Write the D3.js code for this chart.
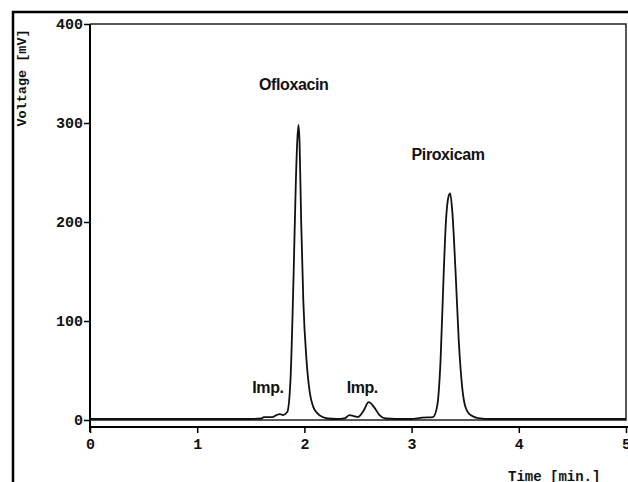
<!DOCTYPE html>
<html>
<head>
<meta charset="utf-8">
<script src="https://cdn.jsdelivr.net/npm/d3@7"></script>
<style>
  body { margin: 0; background: #fff; }
  svg { display: block; }
</style>
</head>
<body>
<svg id="chart" width="628" height="482"></svg>
<script>
// chromatogram data (time in min, signal in mV)
const times = [0, 0.5, 1.0, 1.5, 1.6, 1.62, 1.7, 1.74, 1.77, 1.8,
  1.84, 1.87, 1.9, 1.92, 1.935, 1.945, 1.955, 1.97, 1.99, 2.02,
  2.05, 2.08, 2.12, 2.17, 2.22, 2.3, 2.38, 2.42, 2.46, 2.5,
  2.55, 2.6, 2.65, 2.7, 2.76, 2.85, 3.0, 3.07, 3.1, 3.2,
  3.24, 3.27, 3.3, 3.32, 3.345, 3.36, 3.38, 3.41, 3.44, 3.47,
  3.5, 3.55, 3.62, 3.75, 4.0, 4.5, 5.0];
const voltage = [1, 1, 1, 1, 1.5, 3, 3, 5, 6, 5,
  8, 40, 150, 240, 285, 298, 280, 200, 120, 60,
  28, 14, 7, 3, 1.5, 1, 2, 5, 4, 3,
  9, 18, 13, 5, 1.5, 1, 1, 2, 2.5, 3,
  15, 60, 150, 200, 226, 229, 210, 150, 80, 35,
  14, 5, 2, 1, 1, 1, 1];

const xTicks = [0, 1, 2, 3, 4, 5];
const yTicks = [0, 100, 200, 300, 400];

// peak annotations
const peakNames = ['Ofloxacin', 'Piroxicam', 'Imp.', 'Imp.'];
const peakTimes = [1.9, 3.34, 1.66, 2.54];
const peakLabelV = [333, 263, 27, 27];

const svg = d3.select('#chart');
const margin = { left: 90, top: 24, right: 626, bottom: 420 };

const x = d3.scaleLinear().domain([0, 5]).range([margin.left, margin.right]);
const y = d3.scaleLinear().domain([0, 400]).range([margin.bottom, margin.top]);

const mono = "'Liberation Mono', 'Courier New', monospace";
const sans = "'Liberation Sans', Arial, sans-serif";

// outer frame (top + left edges)
svg.append('path')
  .attr('d', 'M13,482 V12 H628')
  .attr('fill', 'none')
  .attr('stroke', '#000')
  .attr('stroke-width', 2.5);

// plot box
svg.append('path')
  .attr('d', `M${x(0)},${y(400)} H${x(5)} V${y(0)} H${x(0)}`)
  .attr('fill', 'none')
  .attr('stroke', '#222')
  .attr('stroke-width', 1.5);

// signal trace
const line = d3.line()
  .x((d, i) => x(times[i]))
  .y(d => y(d))
  .curve(d3.curveMonotoneX);

svg.append('path')
  .datum(voltage)
  .attr('fill', 'none')
  .attr('stroke', '#111')
  .attr('stroke-width', 1.8)
  .attr('d', line);

// Y axis
const yAxis = svg.append('g')
  .attr('transform', `translate(${x(0)},0)`)
  .call(d3.axisLeft(y).tickValues(yTicks).tickFormat(d3.format('d'))
    .tickSize(6).tickPadding(1).tickSizeOuter(0));
yAxis.select('.domain').attr('d', `M0,${y(400)} V${y(0) + 12}`).attr('stroke-width', 2);

// X axis sits a little under the baseline
const xAxis = svg.append('g')
  .attr('transform', `translate(0,${y(0) + 7})`)
  .call(d3.axisBottom(x).tickValues(xTicks).tickFormat(d3.format('d'))
    .tickSize(6).tickPadding(5).tickSizeOuter(0));
xAxis.select('.domain').attr('d', `M${x(0)},0 H628`).attr('stroke-width', 2);

svg.selectAll('.tick line').attr('stroke', '#000').attr('stroke-width', 1.5);
svg.selectAll('.tick text')
  .attr('font-family', mono)
  .attr('font-weight', 'bold')
  .attr('font-size', 15)
  .attr('fill', '#111');

// axis titles
svg.append('text')
  .attr('transform', 'translate(26,78) rotate(-90)')
  .attr('text-anchor', 'middle')
  .attr('font-family', mono)
  .attr('font-weight', 'bold')
  .attr('font-size', 13.5)
  .attr('fill', '#111')
  .text('Voltage [mV]');

svg.append('text')
  .attr('x', 508)
  .attr('y', 481)
  .attr('font-family', mono)
  .attr('font-weight', 'bold')
  .attr('font-size', 14)
  .attr('fill', '#111')
  .text('Time [min.]');

// peak labels
svg.selectAll('.peak')
  .data(peakNames)
  .enter()
  .append('text')
  .attr('class', 'peak')
  .attr('x', (d, i) => x(peakTimes[i]))
  .attr('y', (d, i) => y(peakLabelV[i]))
  .attr('text-anchor', 'middle')
  .attr('font-family', sans)
  .attr('font-weight', 'bold')
  .attr('font-size', 16)
  .attr('letter-spacing', -0.4)
  .attr('fill', '#111')
  .text(d => d);
</script>
</body>
</html>
